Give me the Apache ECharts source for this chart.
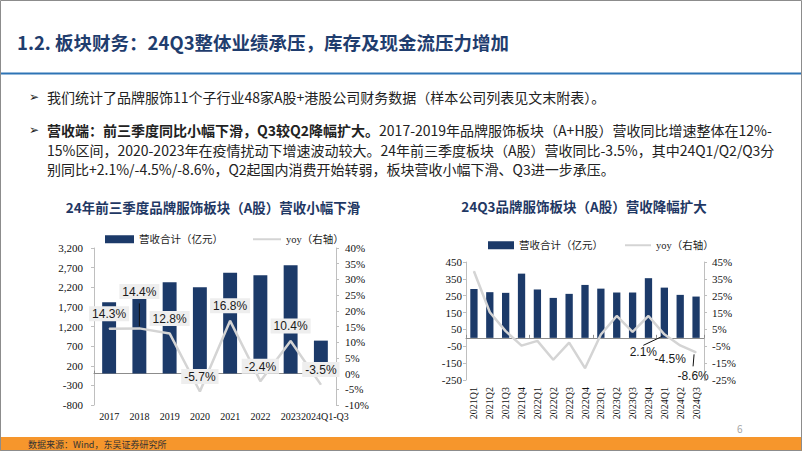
<!DOCTYPE html>
<html><head><meta charset="utf-8">
<script src="https://cdn.jsdelivr.net/npm/echarts@6/dist/echarts.min.js"></script>
<style>html,body{margin:0;padding:0;background:#fff}#c{width:802px;height:451px}</style>
</head><body><div id="c"></div>
<script>
// ---- data ----
const years = ['2017', '2018', '2019', '2020', '2021', '2022', '2023', '2024Q1-Q3'];
const annualRevenue = [1820, 1900, 2330, 2200, 2570, 2505, 2760, 840];
const annualYoy = [14.3, 14.4, 12.8, -5.7, 16.8, -2.4, 10.4, -3.5];

const quarters = ['2021Q1','2021Q2','2021Q3','2021Q4','2022Q1','2022Q2','2022Q3','2022Q4',
                  '2023Q1','2023Q2','2023Q3','2023Q4','2024Q1','2024Q2','2024Q3'];
const quarterRevenue = [290, 271, 267, 381, 287, 237, 261, 314, 292, 269, 269, 354, 298, 255, 245];
const quarterYoy = [39.5, 15.2, 4.0, -4.6, -1.8, -13.0, -2.8, -18.0, 2.0, 13.0, 3.5, 13.0, 2.1, -4.5, -8.6];

const leftTicks1 = { min: -800, max: 3200, interval: 500 };
const rightTicks1 = { min: -10, max: 40, interval: 5 };
const leftTicks2 = { min: -250, max: 450, interval: 100 };
const rightTicks2 = { min: -25, max: 45, interval: 10 };

const barName = '营收合计（亿元）';
const lineName = 'yoy（右轴）';

// ---- styles ----
const NAVY = '#1f3864';
const BAR = '#1c3a69';
const LINE = '#d4d4d4';
const AX = '#bfbfbf';
const SERIF = '"Liberation Serif","Times New Roman","Noto Sans CJK SC",serif';
const SANS = '"Noto Sans CJK SC","Noto Sans",sans-serif';
const ARIAL = '"Liberation Sans",Arial,sans-serif';

// label placement tweaks (style, not data)
const chart1LabelShift = { 1: [0, -22] };
const chart2Labelled = { 12: [-21, 18], 13: [-10, 14], 14: [-3, 24] };
// leader lines: [xAxisIndex, yAxisIndex, dataIndex, start offset, end offset] relative to the point
const leaders = [
  { xa: 0, ya: 1, idx: 1, vals: annualYoy, from: [0, -2], to: [0, -25] },
  { xa: 2, ya: 3, idx: 12, vals: quarterYoy, from: [-2, 2], to: [-21, 11] },
  { xa: 2, ya: 3, idx: 14, vals: quarterYoy, from: [-2, 2], to: [-3, 14] }
];

const quarterYoyData = quarterYoy.map((v, i) => chart2Labelled[i] ? { value: v, label: { show: true } } : { value: v });

function yAxis(grid, ticks, pos, fmt, margin) {
  return {
    type: 'value', gridIndex: grid, position: pos,
    min: ticks.min, max: ticks.max, interval: ticks.interval,
    axisLine: { show: true, lineStyle: { color: AX } },
    axisTick: { show: true, length: 3, lineStyle: { color: AX } },
    splitLine: { show: false },
    axisLabel: { formatter: fmt, fontFamily: SERIF, fontSize: 11, color: '#111', margin: margin }
  };
}

const chart = echarts.init(document.getElementById('c'), null, { renderer: 'svg' });

const graphics = [
  { type: 'rect', shape: { x: 0.5, y: 0.5, width: 801, height: 450 }, style: { fill: 'none', stroke: '#8c8c8c', lineWidth: 1 }, z: 100 },
  { type: 'text', x: 17, y: 42, style: { text: '1.2. 板块财务：24Q3整体业绩承压，库存及现金流压力增加',
    font: 'bold 18.5px ' + SANS, fill: '#1f3d6e', verticalAlign: 'middle' } },
  { type: 'rect', shape: { x: 0, y: 72.5, width: 802, height: 2 }, style: { fill: '#2e74b5' } },
  { type: 'text', x: 29, y: 97, style: { text: '➢', font: '12px "DejaVu Sans",sans-serif', fill: '#222', verticalAlign: 'middle' } },
  { type: 'text', x: 47, y: 97, style: { text: '我们统计了品牌服饰11个子行业48家A股+港股公司财务数据（样本公司列表见文末附表）。',
    font: '14px ' + SANS, fill: '#222', verticalAlign: 'middle' } },
  { type: 'text', x: 29, y: 130, style: { text: '➢', font: '12px "DejaVu Sans",sans-serif', fill: '#222', verticalAlign: 'middle' } },
  { type: 'text', x: 47, y: 130, style: {
    text: '{b|营收端：前三季度同比小幅下滑，Q3较Q2降幅扩大。}{n|2017-2019年品牌服饰板块（A+H股）营收同比增速整体在12%-}',
    verticalAlign: 'middle',
    rich: { b: { fontFamily: SANS, fontSize: 14, fontWeight: 'bold', fill: '#222', color: '#222' },
            n: { fontFamily: SANS, fontSize: 14, fill: '#222', color: '#222' } } } },
  { type: 'text', x: 47, y: 149.5, style: { text: '15%区间，2020-2023年在疫情扰动下增速波动较大。24年前三季度板块（A股）营收同比-3.5%，其中24Q1/Q2/Q3分',
    font: '14px ' + SANS, fill: '#222', verticalAlign: 'middle' } },
  { type: 'text', x: 47, y: 169, style: { text: '别同比+2.1%/-4.5%/-8.6%，Q2起国内消费开始转弱，板块营收小幅下滑、Q3进一步承压。',
    font: '14px ' + SANS, fill: '#222', verticalAlign: 'middle' } },
  { type: 'text', x: 213, y: 207, style: { text: '24年前三季度品牌服饰板块（A股）营收小幅下滑',
    font: 'bold 13.5px ' + SANS, fill: NAVY, align: 'center', verticalAlign: 'middle' } },
  { type: 'text', x: 584, y: 206, style: { text: '24Q3品牌服饰板块（A股）营收降幅扩大',
    font: 'bold 13.5px ' + SANS, fill: NAVY, align: 'center', verticalAlign: 'middle' } },
  { type: 'rect', shape: { x: 0, y: 437, width: 802, height: 14 }, style: { fill: '#f6962c' }, z: 50 },
  { type: 'text', x: 28, y: 444, z: 51, style: { text: '数据来源：Wind，东吴证券研究所', font: '9px ' + SANS, fill: '#333', verticalAlign: 'middle' } },
  { type: 'text', x: 737, y: 428, style: { text: '6', font: '10px ' + SANS, fill: '#a6a6a6', verticalAlign: 'middle' } }
];

const option = {
  animation: false,
  backgroundColor: '#ffffff',
  grid: [
    { left: 94, top: 248, width: 242, height: 157, containLabel: false },
    { left: 466, top: 262, width: 238, height: 118, containLabel: false }
  ],
  legend: [
    { data: [barName], left: 105, top: 234, padding: 0, icon: 'rect', itemWidth: 29, itemHeight: 8,
      textStyle: { fontFamily: SERIF, fontSize: 10.5, color: '#222' } },
    { data: [lineName], left: 252, top: 234, padding: 0, itemWidth: 28, itemHeight: 8,
      itemStyle: { opacity: 0 }, textStyle: { fontFamily: SERIF, fontSize: 10.5, color: '#222' } },
    { data: [barName], left: 488, top: 240, padding: 0, icon: 'rect', itemWidth: 26, itemHeight: 8,
      textStyle: { fontFamily: SERIF, fontSize: 10.5, color: '#222' } },
    { data: [lineName], left: 624, top: 240, padding: 0, itemWidth: 26, itemHeight: 8,
      itemStyle: { opacity: 0 }, textStyle: { fontFamily: SERIF, fontSize: 10.5, color: '#222' } }
  ],
  xAxis: [
    { type: 'category', gridIndex: 0, data: years, position: 'bottom',
      axisLine: { show: false, onZero: false }, axisTick: { show: false },
      axisLabel: { interval: 0, fontFamily: SERIF, fontSize: 10, color: '#111', margin: 6,
        formatter: (v, i) => i === years.length - 1 ? '{last|' + v + '}' : v,
        rich: { last: { fontFamily: SERIF, fontSize: 10, color: '#111', padding: [0, 0, 0, 8] } } } },
    { type: 'category', gridIndex: 0, data: years, position: 'bottom',
      axisLine: { show: true, onZero: true, onZeroAxisIndex: 0, lineStyle: { color: '#8c8c8c' } },
      axisTick: { show: true, inside: true, length: 3, lineStyle: { color: '#8c8c8c' } },
      axisLabel: { show: false } },
    { type: 'category', gridIndex: 1, data: quarters, position: 'bottom',
      axisLine: { show: false, onZero: false }, axisTick: { show: false },
      axisLabel: { interval: 0, rotate: 90, fontFamily: SERIF, fontSize: 10, color: '#111', margin: 7 } },
    { type: 'category', gridIndex: 1, data: quarters, position: 'bottom',
      axisLine: { show: true, onZero: true, onZeroAxisIndex: 2, lineStyle: { color: '#8c8c8c' } },
      axisTick: { show: true, inside: true, length: 3, lineStyle: { color: '#8c8c8c' } },
      axisLabel: { show: false } }
  ],
  yAxis: [
    yAxis(0, leftTicks1, 'left', v => v.toLocaleString('en-US'), 11),
    yAxis(0, rightTicks1, 'right', v => v + '%', 9),
    yAxis(1, leftTicks2, 'left', v => String(v), 4),
    yAxis(1, rightTicks2, 'right', v => v + '%', 8)
  ],
  series: [
    { type: 'bar', name: barName, xAxisIndex: 0, yAxisIndex: 0, data: annualRevenue,
      barWidth: '46%', itemStyle: { color: BAR } },
    { type: 'line', name: lineName, xAxisIndex: 0, yAxisIndex: 1, data: annualYoy, z: 5,
      symbol: 'circle', symbolSize: 1, itemStyle: { color: LINE },
      lineStyle: { color: LINE, width: 2.5 },
      label: { show: true, position: 'top', distance: 7, formatter: p => p.value + '%',
        backgroundColor: '#eeeeee', padding: [2, 3, 1, 3], fontFamily: ARIAL, fontSize: 12, color: '#1a1a1a' },
      labelLayout: p => { const s = chart1LabelShift[p.dataIndex]; return s ? { dx: s[0], dy: s[1] } : {}; } },
    { type: 'bar', name: barName, xAxisIndex: 2, yAxisIndex: 2, data: quarterRevenue,
      barWidth: '46%', itemStyle: { color: BAR } },
    { type: 'line', name: lineName, xAxisIndex: 2, yAxisIndex: 3, data: quarterYoyData, z: 5,
      symbol: 'circle', symbolSize: 1, itemStyle: { color: LINE },
      lineStyle: { color: LINE, width: 2.5 },
      label: { show: false, position: 'inside', formatter: p => p.value + '%',
        fontFamily: ARIAL, fontSize: 12, color: '#1a1a1a' },
      labelLayout: p => { const s = chart2Labelled[p.dataIndex]; return s ? { dx: s[0], dy: s[1] } : {}; } }
  ],
  graphic: graphics
};
chart.setOption(option);

// leader lines, anchored on data points via the chart's own scales
const leaderGraphics = leaders.map(l => {
  const p = chart.convertToPixel({ xAxisIndex: l.xa, yAxisIndex: l.ya }, [l.idx, l.vals[l.idx]]);
  return { type: 'line', z: 20,
    shape: { x1: p[0] + l.from[0], y1: p[1] + l.from[1], x2: p[0] + l.to[0], y2: p[1] + l.to[1] },
    style: { stroke: '#111', lineWidth: 1 } };
});
chart.setOption({ graphic: graphics.concat(leaderGraphics) });
</script>
</body></html>
